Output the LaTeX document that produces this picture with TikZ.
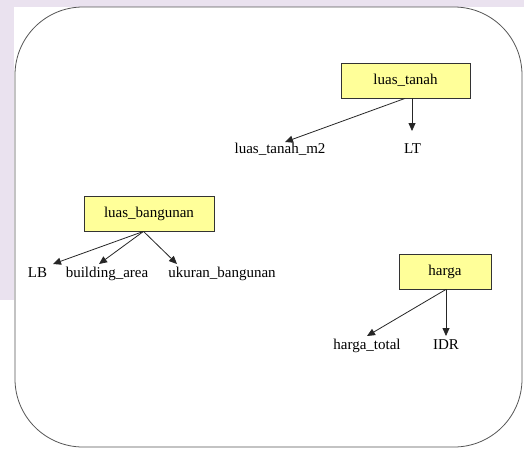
\documentclass[tikz,border=0pt]{standalone}
\usepackage{fontspec}
\setmainfont{Liberation Serif}
\usetikzlibrary{arrows.meta}
\definecolor{boxfill}{HTML}{FFFF99}
\definecolor{lavender}{HTML}{EAE2EF}
\definecolor{framecol}{HTML}{555555}
\tikzset{
  attr/.style={draw=black!80, fill=boxfill, line width=0.8pt, minimum width=#1, minimum height=35pt, inner sep=0pt, font=\fontsize{15}{18}\selectfont, text height=10pt, text depth=3pt},
  lbl/.style={inner sep=0pt, anchor=base, font=\fontsize{15}{18}\selectfont},
  arr/.style={draw=black!85, line width=0.8pt, -{Triangle[length=8pt,width=7pt]}},
}
\begin{document}
\begin{tikzpicture}[x=1pt,y=-1pt]
\useasboundingbox (0,0) rectangle (524,448);
\fill[white] (0,0) rectangle (524,448);
\fill[lavender] (0,0) rectangle (524,7);
\fill[lavender] (0,0) rectangle (14,300);
\draw[framecol, line width=0.8pt, rounded corners=68pt] (15,7) rectangle (522,447);

% luas_tanah
\node[attr=129pt] (lt) at (405.5,80.5) {luas\_tanah};
\node[lbl] (ltm2) at (280,153) {luas\_tanah\_m2};
\node[lbl] (ltLT) at (412.5,153) {LT};
\coordinate (tipm2) at (285,142);
\coordinate (tipLT) at (412,131);
\draw[arr] ([xshift=-0.5pt]lt.south) -- (tipm2);
\draw[arr] (lt.south -| tipLT) -- (tipLT);

% luas_bangunan
\node[attr=130pt] (lb) at (149,213.5) {luas\_bangunan};
\node[lbl] (lbLB) at (37.5,277) {LB};
\node[lbl] (lbba) at (107,277) {building\_area};
\node[lbl] (lbub) at (222,277) {ukuran\_bangunan};
\coordinate (tipLB) at (53,264);
\coordinate (tipba) at (99,264);
\coordinate (tipub) at (177,264);
\draw[arr] ([xshift=-5.5pt]lb.south) -- (tipLB);
\draw[arr] ([xshift=-5.5pt]lb.south) -- (tipba);
\draw[arr] ([xshift=-5.5pt]lb.south) -- (tipub);

% harga
\node[attr=92pt] (hg) at (445,271.5) {harga};
\node[lbl] (hgtot) at (367,349) {harga\_total};
\node[lbl] (hgidr) at (446,349) {IDR};
\coordinate (tiptot) at (367,336);
\coordinate (tipidr) at (446,336);
\draw[arr] ([xshift=1pt]hg.south) -- (tiptot);
\draw[arr] (hg.south -| tipidr) -- (tipidr);
\end{tikzpicture}
\end{document}
